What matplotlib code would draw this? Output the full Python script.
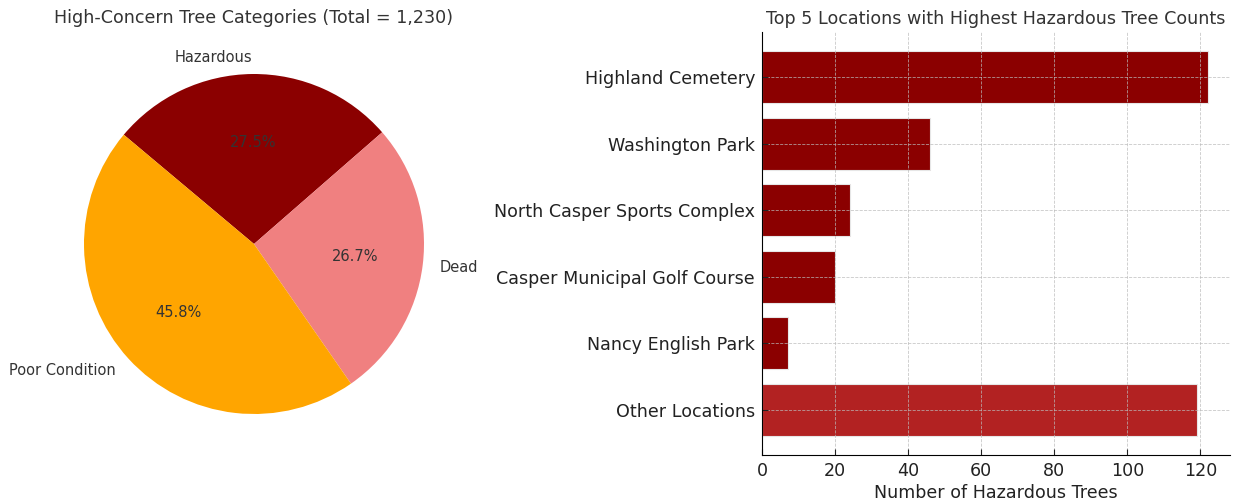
import matplotlib.pyplot as plt

# tree condition counts
categories = ["Hazardous", "Dead", "Poor Condition"]
counts = [338, 329, 563]
pie_colors = ["#8B0000", "#F08080", "#FFA500"]

# hazardous trees by location
locations = ["Highland Cemetery", "Washington Park", "North Casper Sports Complex",
             "Casper Municipal Golf Course", "Nancy English Park", "Other Locations"]
hazard_counts = [122, 46, 24, 20, 7, 119]
bar_colors = ["#8B0000"] * 5 + ["#B22222"]

plt.rcParams["text.color"] = "#333333"
plt.rcParams["axes.labelcolor"] = "#222222"
plt.rcParams["xtick.color"] = "#222222"
plt.rcParams["ytick.color"] = "#222222"

fig = plt.figure(figsize=(12.38, 5.04), dpi=100)

# pie
ax1 = fig.add_axes([41.5 / 1238, 47.5 / 504, 425 / 1238, 425 / 504])
total = sum(counts)
ax1.pie(counts, labels=categories, colors=pie_colors, autopct="%1.1f%%",
        startangle=140, counterclock=False,
        textprops={"fontsize": 10.5, "color": "#333333"})
ax1.set_xlim(-1.25, 1.25)
ax1.set_ylim(-1.25, 1.25)
ax1.set_aspect("equal")
ax1.set_title(f"High-Concern Tree Categories (Total = {total:,})", fontsize=12.6, color="#333333")

# bars
ax2 = fig.add_axes([762 / 1238, 49 / 504, 468 / 1238, 423 / 504])
ax2.barh(locations, hazard_counts, color=bar_colors, height=0.78,
         edgecolor="#e6e6e6", linewidth=0.8)
ax2.invert_yaxis()
ax2.set_title("Top 5 Locations with Highest Hazardous Tree Counts", fontsize=12.6, color="#333333")
ax2.set_xlabel("Number of Hazardous Trees", fontsize=12.6, labelpad=3)
ax2.tick_params(labelsize=12.6, direction="in", length=4, pad=5)
ax2.grid(True, linestyle="--", color="#bbbbbb", linewidth=0.6, alpha=0.8)
ax2.spines["top"].set_visible(False)
ax2.spines["right"].set_visible(False)

fig.savefig("out.png", dpi=100)
